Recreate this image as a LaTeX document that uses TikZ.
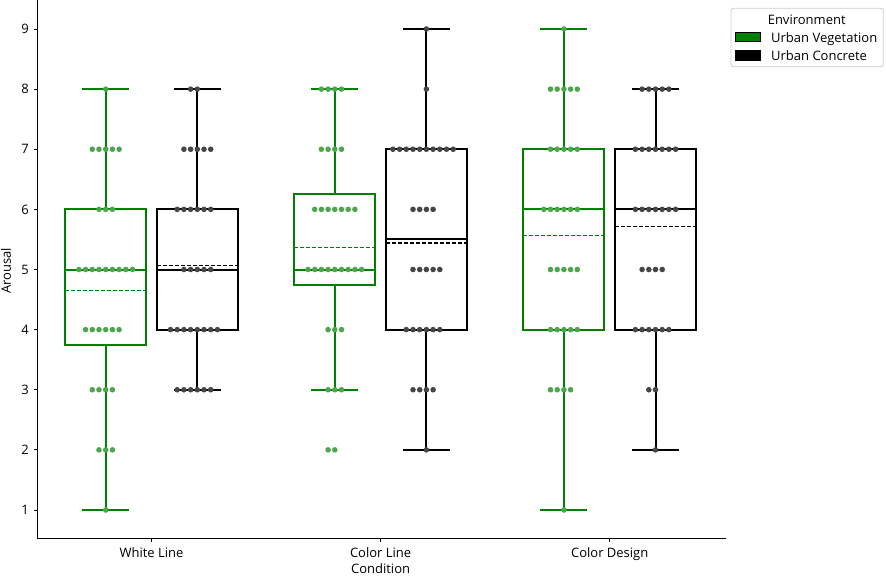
\documentclass[tikz,border=0pt]{standalone}
\usepackage{fontspec}
\setmainfont{Open Sans}
\definecolor{vegline}{RGB}{0,128,0}
\definecolor{vegdot}{RGB}{77,166,77}
\definecolor{condot}{RGB}{70,70,70}
\tikzset{
    meanline/.style={line width=1.3pt,dash pattern=on 4pt off 2pt},
    ticklab/.style={text height=9.3pt,text depth=0pt,inner sep=0pt},
}
\newcommand{\arbox}[7]{
    \draw (#1,#2) -- (#1,#3);
    \draw (#1,#5) -- (#1,#6);
    \draw (#1-23.5,#2) -- (#1+23.5,#2);
    \draw (#1-23.5,#6) -- (#1+23.5,#6);
    \draw (#1-40.5,#3) rectangle (#1+40.5,#5);
    \draw (#1-40.5,#4) -- (#1+40.5,#4);
    \draw[meanline] (#1-40.5,#7) -- (#1+40.5,#7);
}
\newcommand{\swarm}[4]{
    \foreach \k in {1,...,#2}{
        \pgfmathsetmacro{\swoff}{ifthenelse(mod(\k,2)==0,-\k/2,(\k-1)/2)}
        \fill[#4] ({#1+\swoff*6.7},#3) circle (2.8pt);
    }
}
\begin{document}
\begin{tikzpicture}[x=1pt,y=-1pt,font=\fontsize{13}{15}\selectfont]
    \useasboundingbox (0,0) rectangle (886,576);
    \begin{scope}[yshift=-570.125pt,y=60.125pt,line width=2pt]
        \begin{scope}[color=vegline]
            \arbox{105.7}{1}{3.75}{5}{6}{8}{4.65}
            \arbox{334.8}{3}{4.75}{5}{6.25}{8}{5.37}
            \arbox{563.9}{1}{4}{6}{7}{9}{5.56}
        \end{scope}
        \arbox{197.3}{3}{4}{5}{6}{8}{5.07}
        \arbox{426.4}{2}{4}{5.5}{7}{9}{5.44}
        \arbox{655.5}{2}{4}{6}{7}{8}{5.72}
        \foreach \v/\n in {8/1,7/5,6/3,5/9,4/6,3/4,2/3,1/1}{
            \swarm{105.7}{\n}{\v}{vegdot}
        }
        \foreach \v/\n in {8/4,7/4,6/7,5/9,4/3,3/3,2/2}{
            \swarm{334.8}{\n}{\v}{vegdot}
        }
        \foreach \v/\n in {9/1,8/5,7/5,6/6,5/5,4/5,3/4,1/1}{
            \swarm{563.9}{\n}{\v}{vegdot}
        }
        \foreach \v/\n in {8/2,7/5,6/6,5/5,4/8,3/6}{
            \swarm{197.3}{\n}{\v}{condot}
        }
        \foreach \v/\n in {9/1,8/1,7/10,6/4,5/5,4/6,3/4,2/1}{
            \swarm{426.4}{\n}{\v}{condot}
        }
        \foreach \v/\n in {8/5,7/7,6/7,5/4,4/6,3/2,2/1}{
            \swarm{655.5}{\n}{\v}{condot}
        }
    \end{scope}
    \draw[line width=1pt] (37,0) -- (37,538) -- (726,538);
    \foreach \v in {1,...,9}{
        \draw[line width=1pt] (37,{510-(\v-1)*60.125}) -- ++(-3.5,0);
        \node[ticklab,anchor=east] (ytick\v) at (29,{510-(\v-1)*60.125}) {\v};
    }
    \foreach \c/\t [count=\i] in {151.5/White Line,380.6/Color Line,609.7/Color Design}{
        \draw[line width=1pt] (\c,538) -- ++(0,3.5);
        \node[anchor=base,inner sep=0pt] (xtick\i) at (\c,557.7) {\t};
    }
    \node[anchor=base,inner sep=0pt] (xlabel) at (380.6,573.5) {Condition};
    \node[rotate=90,inner sep=0pt] (ylabel) at (6,271) {Arousal};
    \draw[draw=black!20,line width=0.8pt,rounded corners=2.5pt,fill=white] (731,8.3) rectangle (883.3,66.7);
    \node[anchor=base,inner sep=0pt] (legtitle) at (806.7,24) {Environment};
    \draw[fill=vegline,line width=0.8pt] (735.7,32.3) rectangle (760.7,41.7);
    \node[anchor=base west,inner sep=0pt] (legveg) at (771,42) {Urban Vegetation};
    \draw[fill=black,line width=0.8pt] (735.7,50.7) rectangle (760.7,60);
    \node[anchor=base west,inner sep=0pt] (legcon) at (771,60.5) {Urban Concrete};
\end{tikzpicture}
\end{document}
